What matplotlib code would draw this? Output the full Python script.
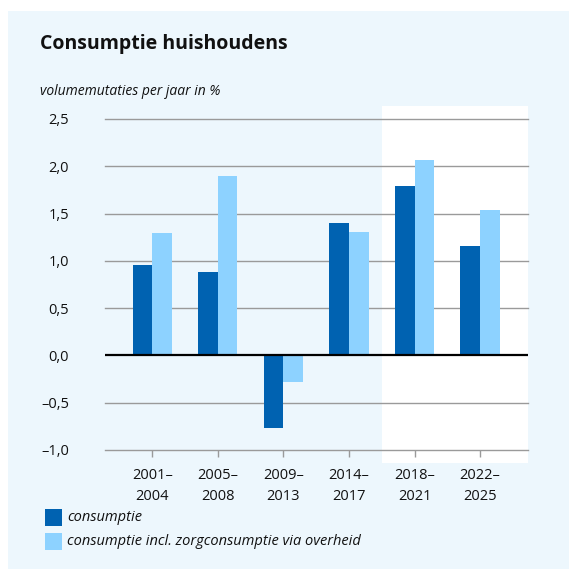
import numpy as np
import matplotlib
matplotlib.use('Agg')
import matplotlib.pyplot as plt
from matplotlib.patches import Rectangle

plt.rcParams['font.family'] = ['Open Sans', 'DejaVu Sans']

periodes = ['2001–\n2004', '2005–\n2008', '2009–\n2013', '2014–\n2017', '2018–\n2021', '2022–\n2025']
consumptie = [0.96, 0.88, -0.77, 1.40, 1.79, 1.16]
consumptie_zorg = [1.29, 1.90, -0.28, 1.31, 2.07, 1.54]
yticks = [-1.0, -0.5, 0.0, 0.5, 1.0, 1.5, 2.0, 2.5]
ylabels = ['–1,0', '–0,5', '0,0', '0,5', '1,0', '1,5', '2,0', '2,5']

dark = '#0062b1'
light = '#8dd2ff'
bg = '#edf7fd'

W = H = 569
fig = plt.figure(figsize=(W / 100, H / 100), dpi=100)
fig.patch.set_facecolor('white')

def px(x0, y0, x1, y1):
    # pixel box (top-left origin) -> figure fraction
    return [x0 / W, 1 - y1 / H, (x1 - x0) / W, (y1 - y0) / H]

def box(x0, y0, x1, y1, col, z):
    b = px(x0, y0, x1, y1)
    fig.add_artist(Rectangle((b[0], b[1]), b[2], b[3], transform=fig.transFigure,
                             facecolor=col, edgecolor='none', zorder=z))

# light blue panel + white area for the forecast years
box(8, 11, 569, 569, bg, -3)
box(382, 106, 528, 463, 'white', -2)

ax = fig.add_axes(px(105, 119, 528, 450))
ax.set_facecolor('none')

x = np.arange(len(periodes))
w = 0.3
ax.bar(x - w / 2, consumptie, w, color=dark, zorder=3, label='consumptie')
ax.bar(x + w / 2, consumptie_zorg, w, color=light, zorder=3,
       label='consumptie incl. zorgconsumptie via overheid')

ax.set_xlim(-0.72, 5.73)
ax.set_ylim(-1.0, 2.5)
for t in yticks:
    if t == 0:
        ax.axhline(0, color='black', lw=1.6, zorder=4)
    else:
        ax.axhline(t, color='#9a9a9a', lw=1.0, zorder=1, clip_on=False)

ax.set_yticks(yticks)
ax.set_yticklabels(ylabels, fontsize=10.5, color='#111111')
ax.tick_params(axis='y', length=0, pad=26)
ax.set_xticks(x)
ax.set_xticklabels(periodes, fontsize=10.5, color='#111111', linespacing=1.5)
ax.tick_params(axis='x', length=5, width=1, color='#9a9a9a', pad=8)
for s in ax.spines.values():
    s.set_visible(False)

fig.text(40 / W, 1 - 44 / H, 'Consumptie huishoudens', fontsize=14, fontweight='bold',
         va='center', ha='left', color='#111111')
fig.text(40 / W, 1 - 92 / H, 'volumemutaties per jaar in %', fontsize=10, style='italic',
         va='center', ha='left', color='#111111')

# legend
for i, (lab, col) in enumerate([('consumptie', dark),
                                 ('consumptie incl. zorgconsumptie via overheid', light)]):
    y0 = 509 + i * 24
    box(45, y0, 62, y0 + 17, col, 2)
    fig.text(67 / W, 1 - (y0 + 8.5) / H, lab, fontsize=10.5, style='italic',
             va='center', ha='left', color='#111111')

fig.savefig('out.png', dpi=100, facecolor=fig.get_facecolor())
